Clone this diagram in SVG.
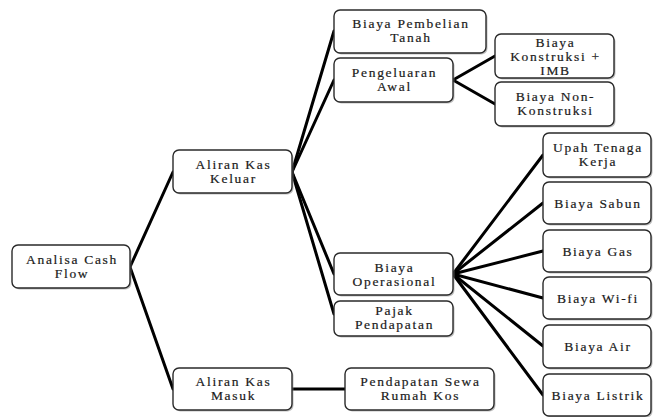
<svg xmlns="http://www.w3.org/2000/svg" width="653" height="417" viewBox="0 0 653 417">
<style>
.bx{fill:#fff;stroke:#2a2a2a;stroke-width:1.4}
.sh{fill:#8a8a8a;opacity:.55}
.t{font-family:"Liberation Serif","Times New Roman",serif;font-size:13.5px;fill:#1a1a1a;stroke:#1a1a1a;stroke-width:.2;text-anchor:middle;letter-spacing:1.7px}
.c{stroke:#000;stroke-width:3;fill:none;stroke-linecap:round}
</style>
<rect width="653" height="417" fill="#fff"/>
<g id="connectors">
<line class="c" x1="130" y1="267" x2="173" y2="172"/>
<line class="c" x1="130" y1="267" x2="173" y2="389"/>
<line class="c" x1="292" y1="172" x2="334" y2="31"/>
<line class="c" x1="292" y1="172" x2="334" y2="80"/>
<line class="c" x1="292" y1="172" x2="334" y2="274"/>
<line class="c" x1="292" y1="172" x2="334" y2="314"/>
<line class="c" x1="453" y1="80" x2="495" y2="56"/>
<line class="c" x1="453" y1="80" x2="495" y2="104"/>
<line class="c" x1="453" y1="274" x2="543" y2="155"/>
<line class="c" x1="453" y1="274" x2="543" y2="203"/>
<line class="c" x1="453" y1="274" x2="543" y2="251"/>
<line class="c" x1="453" y1="274" x2="543" y2="298"/>
<line class="c" x1="453" y1="274" x2="543" y2="346"/>
<line class="c" x1="453" y1="274" x2="543" y2="395"/>
<line class="c" x1="292" y1="389" x2="345" y2="389"/>
</g>
<g id="n1"><rect class="sh" x="13.5" y="246.5" width="118" height="43" rx="6"/><rect class="bx" x="12" y="245" width="118" height="43" rx="6"/><text class="t" x="72" y="264">Analisa Cash</text><text class="t" x="72" y="278">Flow</text></g>
<g id="n2"><rect class="sh" x="174.5" y="151.5" width="119" height="43" rx="6"/><rect class="bx" x="173" y="150" width="119" height="43" rx="6"/><text class="t" x="233.5" y="169">Aliran Kas</text><text class="t" x="233.5" y="183">Keluar</text></g>
<g id="n3"><rect class="sh" x="174.5" y="369.5" width="119" height="42" rx="6"/><rect class="bx" x="173" y="368" width="119" height="42" rx="6"/><text class="t" x="233.5" y="386">Aliran Kas</text><text class="t" x="233.5" y="400">Masuk</text></g>
<g id="n4"><rect class="sh" x="335.5" y="11.5" width="152" height="43" rx="6"/><rect class="bx" x="334" y="10" width="152" height="43" rx="6"/><text class="t" x="411" y="28">Biaya Pembelian</text><text class="t" x="411" y="42">Tanah</text></g>
<g id="n5"><rect class="sh" x="335.5" y="59.5" width="119" height="44" rx="6"/><rect class="bx" x="334" y="58" width="119" height="44" rx="6"/><text class="t" x="394.5" y="77">Pengeluaran</text><text class="t" x="394.5" y="91">Awal</text></g>
<g id="n6"><rect class="sh" x="496.5" y="35.5" width="119" height="44" rx="6"/><rect class="bx" x="495" y="34" width="119" height="44" rx="6"/><text class="t" x="555.5" y="47">Biaya</text><text class="t" x="555.5" y="61">Konstruksi +</text><text class="t" x="555.5" y="75">IMB</text></g>
<g id="n7"><rect class="sh" x="496.5" y="83.5" width="119" height="44" rx="6"/><rect class="bx" x="495" y="82" width="119" height="44" rx="6"/><text class="t" x="555.5" y="101">Biaya Non-</text><text class="t" x="555.5" y="115">Konstruksi</text></g>
<g id="n8"><rect class="sh" x="335.5" y="254.5" width="119" height="42" rx="6"/><rect class="bx" x="334" y="253" width="119" height="42" rx="6"/><text class="t" x="394.5" y="271.5">Biaya</text><text class="t" x="394.5" y="285.5">Operasional</text></g>
<g id="n9"><rect class="sh" x="335.5" y="302.5" width="119" height="35" rx="6"/><rect class="bx" x="334" y="301" width="119" height="35" rx="6"/><text class="t" x="394.5" y="315">Pajak</text><text class="t" x="394.5" y="329">Pendapatan</text></g>
<g id="n10"><rect class="sh" x="544.5" y="134.5" width="108" height="44" rx="6"/><rect class="bx" x="543" y="133" width="108" height="44" rx="6"/><text class="t" x="598" y="152">Upah Tenaga</text><text class="t" x="598" y="166">Kerja</text></g>
<g id="n11"><rect class="sh" x="544.5" y="183.5" width="108" height="42" rx="6"/><rect class="bx" x="543" y="182" width="108" height="42" rx="6"/><text class="t" x="598" y="207.5">Biaya Sabun</text></g>
<g id="n12"><rect class="sh" x="544.5" y="231.5" width="108" height="42" rx="6"/><rect class="bx" x="543" y="230" width="108" height="42" rx="6"/><text class="t" x="598" y="255.5">Biaya Gas</text></g>
<g id="n13"><rect class="sh" x="544.5" y="278.5" width="108" height="42" rx="6"/><rect class="bx" x="543" y="277" width="108" height="42" rx="6"/><text class="t" x="598" y="302.5">Biaya Wi-fi</text></g>
<g id="n14"><rect class="sh" x="544.5" y="326.5" width="108" height="43" rx="6"/><rect class="bx" x="543" y="325" width="108" height="43" rx="6"/><text class="t" x="598" y="351">Biaya Air</text></g>
<g id="n15"><rect class="sh" x="544.5" y="375.5" width="108" height="42" rx="6"/><rect class="bx" x="543" y="374" width="108" height="42" rx="6"/><text class="t" x="598" y="400">Biaya Listrik</text></g>
<g id="n16"><rect class="sh" x="346.5" y="369.5" width="149" height="42" rx="6"/><rect class="bx" x="345" y="368" width="149" height="42" rx="6"/><text class="t" x="420.5" y="386">Pendapatan Sewa</text><text class="t" x="420.5" y="400">Rumah Kos</text></g>
</svg>
